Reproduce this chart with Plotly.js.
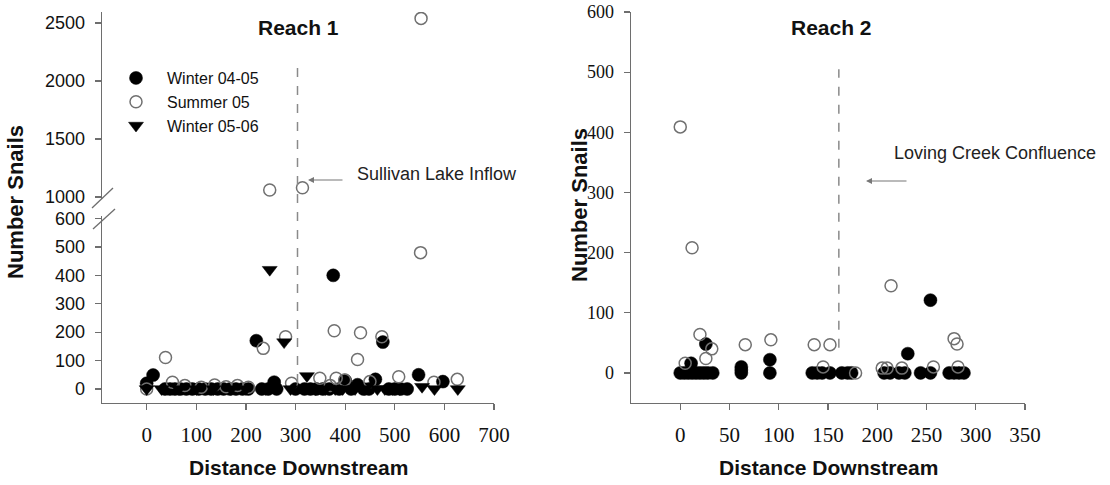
<!DOCTYPE html>
<html>
<head>
<meta charset="utf-8">
<script src="https://cdn.plot.ly/plotly-3.0.1.min.js"></script>
<style>html,body{margin:0;padding:0;background:#fff;}#chart{width:1110px;height:485px;}</style>
</head>
<body>
<div id="chart"></div>
<script>
// ---------- Reach 1 data ----------
const r1Winter0405X = [0, 13, 37, 47, 57, 68, 80, 92, 105, 118, 130, 143, 155, 168, 180, 193, 205, 221, 232, 245, 257, 262, 300, 318, 330, 342, 355, 368, 376, 388, 400, 412, 425, 437, 448, 461, 476, 488, 500, 512, 525, 548, 597];
const r1Winter0405Y = [20, 49, 0, 0, 0, 0, 0, 0, 0, 0, 0, 0, 0, 0, 0, 0, 0, 170, 0, 0, 24, 0, 0, 0, 0, 0, 0, 0, 400, 0, 30, 0, 15, 0, 0, 34, 165, 0, 0, 0, 0, 50, 26];

const r1Summer05X = [0, 38, 52, 77, 110, 137, 160, 183, 205, 235, 248, 280, 292, 314, 349, 370, 378, 382, 399, 425, 431, 450, 474, 508, 552, 553, 579, 626];
const r1Summer05Y = [0, 111, 24, 12, 6, 14, 8, 12, 6, 143, 1060, 184, 20, 1080, 38, 12, 205, 38, 32, 104, 198, 26, 184, 43, 480, 2540, 24, 34];

const r1Winter0506X = [0, 30, 65, 100, 135, 170, 200, 240, 248, 277, 290, 323, 340, 360, 380, 395, 420, 440, 465, 480, 495, 510, 555, 580, 627];
const r1Winter0506Y = [0, 0, 0, 0, 0, 0, 0, 0, 420, 165, 0, 46, 0, 0, 0, 0, 0, 0, 0, 0, 0, 0, 8, 0, 0];

// ---------- Reach 2 data ----------
const r2Winter0405X = [0, 4, 8, 11, 12, 16, 20, 24, 26, 28, 33, 62, 62, 62, 91, 91, 134, 139, 144, 152, 164, 170, 174, 207, 213, 222, 228, 231, 244, 254, 254, 273, 278, 283, 288];
const r2Winter0405Y = [0, 0, 0, 16, 0, 0, 0, 0, 48, 0, 0, 0, 5, 10, 22, 0, 0, 0, 0, 0, 0, 0, 0, 0, 0, 0, 0, 32, 0, 0, 121, 0, 0, 0, 0];

const r2Summer05X = [0, 5, 12, 20, 26, 32, 66, 92, 136, 145, 152, 178, 205, 210, 214, 225, 257, 278, 281, 282];
const r2Summer05Y = [409, 16, 208, 64, 24, 40, 47, 55, 47, 10, 47, 0, 8, 8, 145, 8, 10, 57, 48, 10];

// ---------- labels ----------
const seriesNames = ['Winter 04-05', 'Summer 05', 'Winter 05-06'];
const panelTitles = ['Reach 1', 'Reach 2'];
const xTitle = 'Distance Downstream';
const yTitle = 'Number Snails';
const r1LowerTicks = [0, 100, 200, 300, 400, 500, 600];
const r1UpperTicks = [1000, 1500, 2000, 2500];
const r1XTicks = [0, 100, 200, 300, 400, 500, 600, 700];
const r2XTicks = [0, 50, 100, 150, 200, 250, 300, 350];
const r2YTicks = [0, 100, 200, 300, 400, 500, 600];
const r1BreakLow = 900;
const r1MarkerX = 304;   // Sullivan Lake Inflow
const r2MarkerX = 161;   // Loving Creek Confluence
const notes = ['Sullivan Lake Inflow', 'Loving Creek Confluence'];

// ---------- helpers ----------
const W = 1110, H = 485;
const px = v => v / W;
const py = v => 1 - v / H;
const SANS = "'Liberation Sans', Arial, sans-serif";
const SERIF = "'Times New Roman', 'Liberation Serif', 'DejaVu Serif', serif";
const AX = '#6e6e6e';

const styles = [
  {symbol: 'circle', size: 13, color: '#000', line: {color: '#000', width: 0.5}},
  {symbol: 'circle', size: 12, color: 'rgba(255,255,255,0)', line: {color: '#707070', width: 1.5}},
  {symbol: 'triangle-down', size: 13, color: '#000', line: {color: '#000', width: 0.5}}
];

function filt(xs, ys, f) {
  const ox = [], oy = [];
  xs.forEach((x, i) => { if (f(ys[i])) { ox.push(x); oy.push(ys[i]); } });
  return [ox, oy];
}

const traces = [];
const r1 = [[r1Winter0405X, r1Winter0405Y], [r1Summer05X, r1Summer05Y], [r1Winter0506X, r1Winter0506Y]];
r1.forEach((s, i) => {
  const [lx, ly] = filt(s[0], s[1], v => v < r1BreakLow);
  traces.push({x: lx, y: ly, xaxis: 'x', yaxis: 'y2', type: 'scatter', mode: 'markers',
    name: seriesNames[i], marker: styles[i], showlegend: true, legendrank: i + 1});
  const [ux, uy] = filt(s[0], s[1], v => v >= r1BreakLow);
  traces.push({x: ux, y: uy, xaxis: 'x', yaxis: 'y', type: 'scatter', mode: 'markers',
    name: seriesNames[i], marker: styles[i], showlegend: false});
});
const r2 = [[r2Winter0405X, r2Winter0405Y], [r2Summer05X, r2Summer05Y]];
r2.forEach((s, i) => {
  traces.push({x: s[0], y: s[1], xaxis: 'x2', yaxis: 'y3', type: 'scatter', mode: 'markers',
    name: seriesNames[i], marker: styles[i], showlegend: false});
});

const baseAxis = {
  showline: true, linecolor: AX, linewidth: 1.3, ticks: 'outside', ticklen: 6, tickwidth: 1.2,
  tickcolor: AX, showgrid: false, zeroline: false, tickmode: 'array', fixedrange: true
};

const layout = {
  width: W, height: H, margin: {l: 0, r: 0, t: 0, b: 0}, paper_bgcolor: '#fff', plot_bgcolor: 'rgba(0,0,0,0)',
  showlegend: true,
  legend: {x: px(105), y: py(61), xanchor: 'left', yanchor: 'top', bgcolor: 'rgba(0,0,0,0)',
    font: {family: SANS, size: 16, color: '#111'}, itemwidth: 52, tracegroupgap: 0},
  xaxis: Object.assign({}, baseAxis, {domain: [px(102), px(494)], range: [-90, 700], anchor: 'y2',
    tickvals: r1XTicks, ticktext: r1XTicks.map(String), tickfont: {family: SERIF, size: 21, color: '#111'}, ticklabelstandoff: 6}),
  yaxis: Object.assign({}, baseAxis, {domain: [py(199), py(12)], range: [983, 2595], anchor: 'x',
    tickvals: r1UpperTicks, ticktext: r1UpperTicks.map(String), tickfont: {family: SANS, size: 18, color: '#111'}, ticklabelstandoff: 6}),
  yaxis2: Object.assign({}, baseAxis, {domain: [py(403), py(216)], range: [-49.3, 609], anchor: 'x',
    tickvals: r1LowerTicks, ticktext: r1LowerTicks.map(String), tickfont: {family: SANS, size: 18, color: '#111'}, ticklabelstandoff: 6}),
  xaxis2: Object.assign({}, baseAxis, {domain: [px(631), px(1025)], range: [-50, 350], anchor: 'y3',
    tickvals: r2XTicks, ticktext: r2XTicks.map(String), tickfont: {family: SERIF, size: 21, color: '#111'}, ticklabelstandoff: 6}),
  yaxis3: Object.assign({}, baseAxis, {domain: [py(403), py(12)], range: [-50, 600], anchor: 'x2',
    tickvals: r2YTicks, ticktext: r2YTicks.map(String), tickfont: {family: SERIF, size: 18, color: '#111'}, ticklabelstandoff: 6}),
  shapes: [
    {type: 'line', xref: 'x', yref: 'paper', x0: r1MarkerX, x1: r1MarkerX, y0: py(383), y1: py(68),
      line: {color: '#8a8a8a', width: 1.5, dash: 'dash'}},
    {type: 'line', xref: 'x2', yref: 'y3', x0: r2MarkerX, x1: r2MarkerX, y0: 42, y1: 505,
      line: {color: '#8a8a8a', width: 1.5, dash: 'dash'}},
    {type: 'line', xref: 'paper', yref: 'paper', x0: px(92), y0: py(208), x1: px(113), y1: py(188), line: {color: AX, width: 1.3}},
    {type: 'line', xref: 'paper', yref: 'paper', x0: px(93), y0: py(229), x1: px(115), y1: py(209), line: {color: AX, width: 1.3}}
  ],
  annotations: [
    {text: '<b>' + panelTitles[0] + '</b>', x: px(298), y: py(27), xref: 'paper', yref: 'paper', showarrow: false,
      xanchor: 'center', yanchor: 'middle', font: {family: SANS, size: 21, color: '#111'}},
    {text: '<b>' + panelTitles[1] + '</b>', x: px(831), y: py(27), xref: 'paper', yref: 'paper', showarrow: false,
      xanchor: 'center', yanchor: 'middle', font: {family: SANS, size: 21, color: '#111'}},
    {text: '<b>' + xTitle + '</b>', x: px(298), y: py(467), xref: 'paper', yref: 'paper', showarrow: false,
      xanchor: 'center', yanchor: 'middle', font: {family: SANS, size: 21, color: '#111'}},
    {text: '<b>' + xTitle + '</b>', x: px(828), y: py(467), xref: 'paper', yref: 'paper', showarrow: false,
      xanchor: 'center', yanchor: 'middle', font: {family: SANS, size: 21, color: '#111'}},
    {text: '<b>' + yTitle + '</b>', x: px(15), y: py(202), xref: 'paper', yref: 'paper', showarrow: false, textangle: -90,
      xanchor: 'center', yanchor: 'middle', font: {family: SANS, size: 22, color: '#111'}},
    {text: '<b>' + yTitle + '</b>', x: px(579), y: py(205), xref: 'paper', yref: 'paper', showarrow: false, textangle: -90,
      xanchor: 'center', yanchor: 'middle', font: {family: SANS, size: 22, color: '#111'}},
    {text: notes[0], x: px(355), y: py(174), xref: 'paper', yref: 'paper', showarrow: false,
      xanchor: 'left', yanchor: 'middle', font: {family: SANS, size: 18, color: '#222'}},
    {text: notes[1], x: px(892), y: py(153), xref: 'paper', yref: 'paper', showarrow: false,
      xanchor: 'left', yanchor: 'middle', font: {family: SANS, size: 18, color: '#222'}},
    {text: '', x: px(308), y: py(180), xref: 'paper', yref: 'paper', showarrow: true, ax: 36, ay: 0,
      arrowhead: 2, arrowsize: 1, arrowwidth: 1.2, arrowcolor: '#777'},
    {text: '', x: px(866), y: py(181), xref: 'paper', yref: 'paper', showarrow: true, ax: 42, ay: 0,
      arrowhead: 2, arrowsize: 1, arrowwidth: 1.2, arrowcolor: '#777'}
  ]
};

Plotly.newPlot('chart', traces, layout, {displayModeBar: false, staticPlot: true});
</script>
</body>
</html>
